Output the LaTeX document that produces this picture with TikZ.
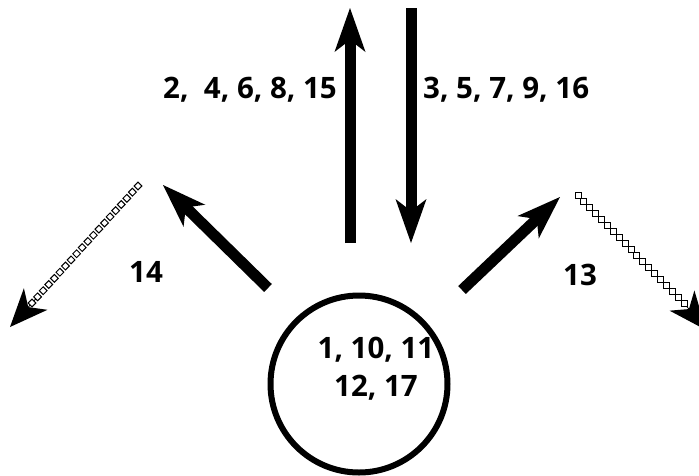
\documentclass[tikz,border=0pt]{standalone}
\usepackage{fontspec}
\setmainfont{Open Sans}
\usepackage{tikz}
\usetikzlibrary{arrows.meta}
\usetikzlibrary{calc}

\begin{document}
\begin{tikzpicture}[x=1pt,y=-1pt,lbl/.style={font=\fontsize{29.5}{38}\selectfont\bfseries,inner sep=0pt}]
    \tikzstyle{bigarrow} = [line width=11pt,-{Stealth[length=44pt,width=31pt,inset=12pt,line width=0pt]}]
    \tikzstyle{link} = [rectangle,draw,fill=white,line width=1pt,minimum size=5.5pt,inner sep=0pt]
    \tikzstyle{linkhead} = [line width=.8pt,-{Stealth[length=38pt,width=32pt,inset=11pt,line width=0pt]}]
    \useasboundingbox (0,0) rectangle (699,475);
        %%% hub %%%
        \node[circle,draw,line width=6pt,minimum size=177pt] (hub) at (359,384) {};
        \node[lbl,align=center,xshift=17pt,yshift=15pt] (hubtext) at (hub) {1, 10, 11\\12, 17};
        %%% up / down pair
        \coordinate (upfoot) at (350,243);
        \coordinate (uptip) at (350,8);
        \coordinate (downtop) at (411,8);
        \coordinate (downtip) at (411,243);
        \draw[bigarrow] (upfoot) -- (uptip);
        \draw[bigarrow] (downtop) -- (downtip);
        %%% labels
        \node[lbl,anchor=base east] (uplabel) at (337,98) {2,~ 4, 6, 8, 15};
        \node[lbl,anchor=base west] (downlabel) at (423,98) {3, 5, 7, 9, 16};
        %%% side arrows
        \coordinate (leftfoot) at (268,288);
        \coordinate (lefttip) at (163,185);
        \coordinate (rightfoot) at (462,290);
        \coordinate (righttip) at (560,197);
        \draw[bigarrow] (leftfoot) -- (lefttip);
        \draw[bigarrow] (rightfoot) -- (righttip);
        %%% chains
        \coordinate (lchainA) at (138,186);
        \coordinate (lchainB) at (32,303);
        \coordinate (lchaintip) at (10,327);
        \coordinate (rchainA) at (578,195);
        \coordinate (rchainB) at (684,303);
        \coordinate (rchaintip) at (706,330);
        \draw[linkhead] ($(lchaintip)!40pt!(lchainB)$) -- (lchaintip);
        \draw[linkhead] ($(rchaintip)!40pt!(rchainB)$) -- (rchaintip);
        \foreach \i in {0,...,19}
            \node[link,rotate=45] (lk\i) at ($(lchainA)!\i/19!(lchainB)$) {};
        \foreach \i in {0,...,18}
            \node[link,minimum size=6pt] (rk\i) at ($(rchainA)!\i/18!(rchainB)$) {};
        %%% labels
        \node[lbl,anchor=base] (leftlabel) at (146,282) {14};
        \node[lbl,anchor=base] (rightlabel) at (580,285) {13};
\end{tikzpicture}
\end{document}
